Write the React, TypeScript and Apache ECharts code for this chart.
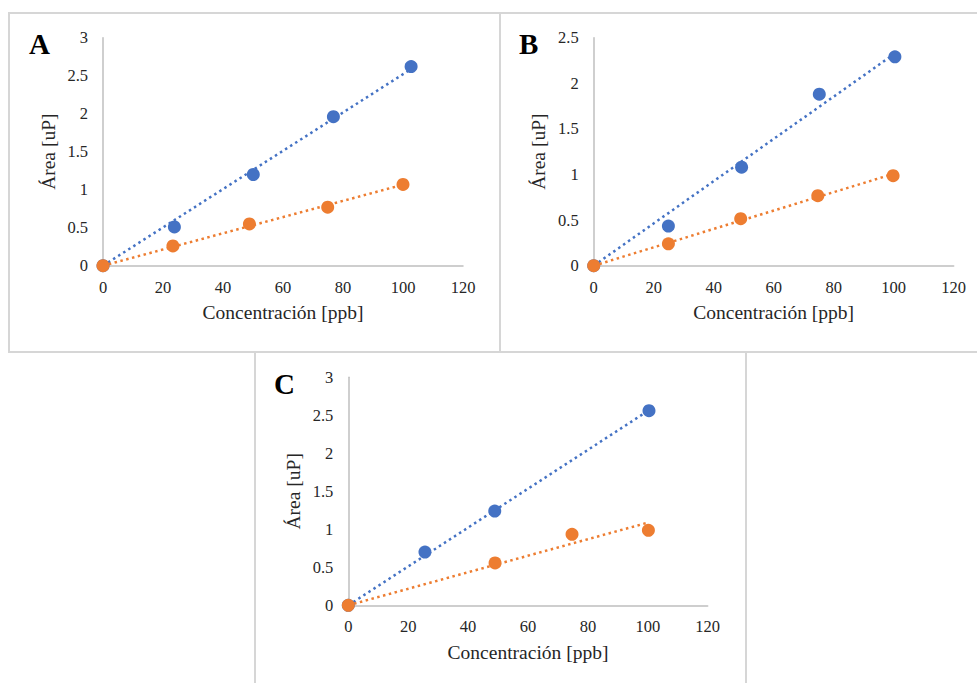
import * as echarts from "echarts";
import { useEffect, useRef } from "react";

// Panel A
const aBlueX = [0, 23.8, 50.1, 76.8, 102.7];
const aBlueY = [0, 0.51, 1.2, 1.96, 2.62];
const aOrangeX = [0, 23.3, 48.8, 74.9, 100];
const aOrangeY = [0, 0.26, 0.55, 0.77, 1.07];

// Panel B
const bBlueX = [0, 24.9, 49.3, 75.2, 100.4];
const bBlueY = [0, 0.435, 1.08, 1.88, 2.29];
const bOrangeX = [0, 24.9, 49, 74.7, 99.8];
const bOrangeY = [0, 0.24, 0.515, 0.768, 0.987];

// Panel C
const cBlueX = [0, 25.6, 48.9, 100.4];
const cBlueY = [0, 0.7, 1.24, 2.56];
const cOrangeX = [0, 49, 74.7, 100.2];
const cOrangeY = [0, 0.557, 0.934, 0.987];

const xTicks = { min: 0, max: 120, interval: 20 };
const yTicksA = { min: 0, max: 3, interval: 0.5 };
const yTicksB = { min: 0, max: 2.5, interval: 0.5 };
const yTicksC = { min: 0, max: 3, interval: 0.5 };

const panelLetters = ["A", "B", "C"];
const xName = "Concentración [ppb]";
const yName = "Área [uP]";

const BLUE = "#4472C4";
const ORANGE = "#ED7D31";
const FONT = "'Liberation Serif', 'Times New Roman', serif";

const pairs = (xs: number[], ys: number[]) => xs.map((x, i) => [x, ys[i]]);

// linear trendline forced through the origin
const trend = (xs: number[], ys: number[]) => {
	let sxy = 0;
	let sxx = 0;
	xs.forEach((x, i) => {
		sxy += x * ys[i];
		sxx += x * x;
	});
	const k = sxy / sxx;
	const xmax = Math.max(...xs);
	return [
		[0, 0],
		[xmax, k * xmax]
	];
};

const grids = [
	{ left: 103, top: 37.7, width: 360, height: 228 },
	{ left: 593.7, top: 37.7, width: 360, height: 228 },
	{ left: 348.3, top: 377.3, width: 359.4, height: 228 }
];

const xAxisOf = (gridIndex: number) => ({
	type: "value" as const,
	gridIndex,
	...xTicks,
	name: xName,
	nameLocation: "middle" as const,
	nameGap: 37,
	nameTextStyle: { fontFamily: FONT, fontSize: 19.5, color: "#262626" },
	axisLine: { show: true, lineStyle: { color: "#bfbfbf", width: 1.5 } },
	axisTick: { show: false },
	splitLine: { show: false },
	axisLabel: { fontFamily: FONT, fontSize: 16.5, color: "#262626", margin: 13 }
});

const yAxisOf = (gridIndex: number, ticks: { min: number; max: number; interval: number }) => ({
	type: "value" as const,
	gridIndex,
	...ticks,
	name: yName,
	nameLocation: "middle" as const,
	nameGap: 45,
	nameTextStyle: { fontFamily: FONT, fontSize: 19.5, color: "#262626" },
	axisLine: { show: true, onZero: false, lineStyle: { color: "#bfbfbf", width: 1.5 } },
	axisTick: { show: false },
	splitLine: { show: false },
	axisLabel: { fontFamily: FONT, fontSize: 16.5, color: "#262626", margin: 15 }
});

const panelSeries = (
	idx: number,
	bx: number[],
	by: number[],
	ox: number[],
	oy: number[]
) => [
	{
		type: "line" as const,
		xAxisIndex: idx,
		yAxisIndex: idx,
		data: trend(bx, by),
		showSymbol: false,
		symbol: "none",
		lineStyle: { color: BLUE, width: 2.5, type: [2.5, 3.5] },
		z: 2
	},
	{
		type: "line" as const,
		xAxisIndex: idx,
		yAxisIndex: idx,
		data: trend(ox, oy),
		showSymbol: false,
		symbol: "none",
		lineStyle: { color: ORANGE, width: 2.5, type: [2.5, 3.5] },
		z: 2
	},
	{
		type: "scatter" as const,
		xAxisIndex: idx,
		yAxisIndex: idx,
		data: pairs(bx, by),
		symbolSize: 13,
		itemStyle: { color: BLUE, opacity: 1 },
		z: 3
	},
	{
		type: "scatter" as const,
		xAxisIndex: idx,
		yAxisIndex: idx,
		data: pairs(ox, oy),
		symbolSize: 13,
		itemStyle: { color: ORANGE, opacity: 1 },
		z: 4
	}
];

const borderStyle = { fill: "none", stroke: "#d6d6d6", lineWidth: 2 };
const letterStyle = (text: string) => ({
	text,
	fontFamily: FONT,
	fontWeight: "bold",
	fontSize: 29,
	fill: "#000"
});

const option = {
	animation: false,
	backgroundColor: "#fff",
	textStyle: { fontFamily: FONT },
	grid: grids,
	xAxis: [xAxisOf(0), xAxisOf(1), xAxisOf(2)],
	yAxis: [yAxisOf(0, yTicksA), yAxisOf(1, yTicksB), yAxisOf(2, yTicksC)],
	series: [
		...panelSeries(0, aBlueX, aBlueY, aOrangeX, aOrangeY),
		...panelSeries(1, bBlueX, bBlueY, bOrangeX, bOrangeY),
		...panelSeries(2, cBlueX, cBlueY, cOrangeX, cOrangeY)
	],
	graphic: [
		{ type: "rect", shape: { x: 9, y: 13, width: 491, height: 339 }, style: borderStyle, silent: true },
		{ type: "rect", shape: { x: 500, y: 13, width: 490, height: 339 }, style: borderStyle, silent: true },
		{ type: "rect", shape: { x: 255, y: 352, width: 491, height: 340 }, style: borderStyle, silent: true },
		{ type: "text", x: 29, y: 29, style: letterStyle(panelLetters[0]) },
		{ type: "text", x: 519, y: 29, style: letterStyle(panelLetters[1]) },
		{ type: "text", x: 274, y: 369, style: letterStyle(panelLetters[2]) }
	]
};

const App = () => {
	const chartRef = useRef<HTMLDivElement>(null);

	useEffect(() => {
		const chart = echarts.init(chartRef.current!, undefined, { renderer: "svg" });
		chart.setOption(option as any);

		return () => {
			chart.dispose();
		};
	}, []);

	return (
		<div
			ref={chartRef}
			style={{ position: "fixed", left: 0, top: 0, width: "977px", height: "683px" }}
		/>
	);
};

export default App;
